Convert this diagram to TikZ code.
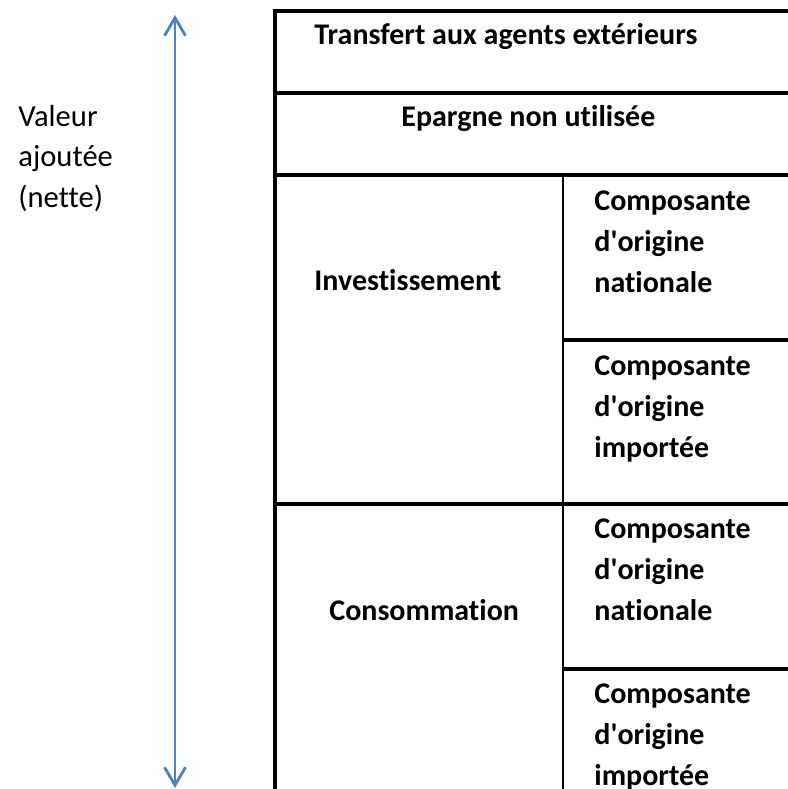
\documentclass[tikz,border=0pt]{standalone}
\usepackage{fontspec}
\setmainfont{Carlito}[Ligatures=NoCommon]
\usetikzlibrary{positioning, arrows.meta}

\definecolor{arrowblue}{RGB}{79,129,189}

\begin{document}
\begin{tikzpicture}[
    x=0.5pt, y=-0.5pt,
    thickline/.style  = {draw=black, line width=2pt},
    thinline/.style   = {draw=black, line width=1pt},
    label/.style      = {anchor=base west, inner sep=0pt, font=\fontsize{15}{20.5}\selectfont\bfseries, align=left},
    sidelabel/.style  = {anchor=base west, inner sep=0pt, font=\fontsize{15.3}{20.2}\selectfont, align=left},
    valuearrow/.style = {draw=arrowblue, line width=1.4pt, {Straight Barb[length=9pt, width=10.5pt]}-{Straight Barb[length=9pt, width=10.5pt]}},
]
\useasboundingbox (0,0) rectangle (788,789);

% value-added scale on the left
\coordinate (vtop) at (175,15);
\coordinate (vbot) at (175,788);
\draw[valuearrow] (vtop) -- (vbot);
\node[sidelabel] (va) at (18,207) {Valeur\\ajoutée\\(nette)};

% frame of the table
\draw[thickline] (275,9) -- (275,789);
\draw[thickline] (273,11) -- (788,11);
\draw[thickline] (275,93) -- (788,93);
\draw[thickline] (275,175) -- (788,175);
\draw[thickline] (275,504) -- (788,504);
\draw[thinline] (563,175) -- (563,789);
\draw[thickline] (563,340) -- (788,340);
\draw[thickline] (563,669) -- (788,669);

% rows across the whole width
\node[label] (transfert) at (314,44)  {Transfert aux agents extérieurs};
\node[label] (epargne)   at (401,126) {Epargne non utilisée};

% left column
\node[label] (invest) at (314,290) {Investissement};
\node[label] (conso)  at (329,620) {Consommation};

% right column (anchored on the last line)
\node[label] (invnat) at (594,292) {Composante\\d\textquotesingle origine\\nationale};
\node[label] (invimp) at (594,457) {Composante\\d\textquotesingle origine\\importée};
\node[label] (connat) at (594,620) {Composante\\d\textquotesingle origine\\nationale};
\node[label] (conimp) at (594,785) {Composante\\d\textquotesingle origine\\importée};

\end{tikzpicture}
\end{document}
